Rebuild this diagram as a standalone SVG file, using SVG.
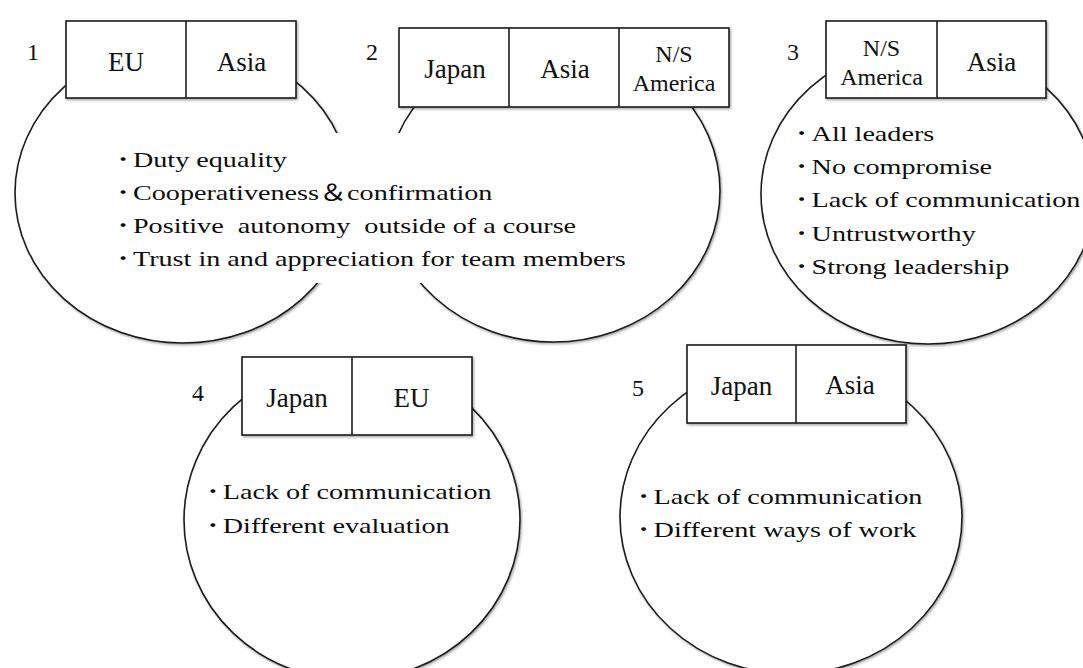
<svg xmlns="http://www.w3.org/2000/svg" width="1083" height="668" viewBox="0 0 1083 668">
<defs>
<filter id="sh" x="-10%" y="-10%" width="120%" height="120%">
<feDropShadow dx="1.2" dy="1.5" stdDeviation="0.9" flood-color="#000" flood-opacity="0.35"/>
</filter>
<style>
.el{fill:#fff;stroke:#1c1c1c;stroke-width:1.6;filter:url(#sh)}
.bx{fill:#fff;stroke:#1c1c1c;stroke-width:1.6;filter:url(#sh)}
.dv{stroke:#1c1c1c;stroke-width:1.6}
.lb{font-family:'Liberation Serif','Times New Roman','DejaVu Serif',serif;font-size:27px;fill:#111;text-anchor:middle}
.ls{font-family:'Liberation Serif','Times New Roman','DejaVu Serif',serif;font-size:24px;fill:#111;text-anchor:middle}
.num{font-family:'Liberation Serif','Times New Roman','DejaVu Serif',serif;font-size:24px;fill:#111;text-anchor:middle}
.t{font-family:'Liberation Serif','Times New Roman','DejaVu Serif',serif;font-size:22px;fill:#0d0d0d;white-space:pre}
.cj{font-family:'Noto Sans CJK JP',sans-serif}
.bu{font-family:'Noto Sans CJK JP',sans-serif;font-size:15px;font-weight:bold}
</style>
</defs>
<rect width="1083" height="668" fill="#fff"/>
<g id="connectors"/>

<g id="node1">
<ellipse class="el" cx="183" cy="193" rx="168" ry="150"/>
</g>
<g id="node2">
<ellipse class="el" cx="553" cy="191" rx="167" ry="151"/>
</g>
<g id="node1-2-text">
<rect x="108" y="133" width="522" height="150" fill="#fff"/>
<text class="t" xml:space="preserve" transform="translate(113.4,167) scale(1.28,1)"><tspan class="bu" dy="-2">・</tspan><tspan x="15.3" dy="2">Duty equality</tspan></text>
<text class="t" xml:space="preserve" transform="translate(113.4,200) scale(1.28,1)"><tspan class="bu" dy="-2">・</tspan><tspan x="15.3" dy="2">Cooperativeness</tspan><tspan class="cj">＆</tspan><tspan>confirmation</tspan></text>
<text class="t" xml:space="preserve" transform="translate(113.4,233) scale(1.28,1)"><tspan class="bu" dy="-2">・</tspan><tspan x="15.3" dy="2">Positive  autonomy  outside of a course</tspan></text>
<text class="t" xml:space="preserve" transform="translate(113.4,266) scale(1.28,1)"><tspan class="bu" dy="-2">・</tspan><tspan x="15.3" dy="2">Trust in and appreciation for team members</tspan></text>
</g>
<g id="node1-header">
<rect class="bx" x="66" y="21" width="230" height="77"/>
<line class="dv" x1="186" y1="21" x2="186" y2="98"/>
<text class="num" x="33" y="60">1</text>
<text class="lb" x="126" y="71">EU</text>
<text class="lb" x="241.5" y="71">Asia</text>
</g>
<g id="node2-header">
<rect class="bx" x="399" y="28" width="330" height="79"/>
<line class="dv" x1="509" y1="28" x2="509" y2="107"/>
<line class="dv" x1="619" y1="28" x2="619" y2="107"/>
<text class="num" x="372" y="60">2</text>
<text class="lb" x="455" y="78">Japan</text>
<text class="lb" x="565" y="78">Asia</text>
<text class="ls" x="674" y="62">N/S</text>
<text class="ls" x="674" y="91">America</text>
</g>

<g id="node3">
<ellipse class="el" cx="928" cy="194" rx="167" ry="150"/>
<rect class="bx" x="826" y="21" width="220" height="77"/>
<line class="dv" x1="937" y1="21" x2="937" y2="98"/>
<text class="num" x="793" y="60">3</text>
<text class="ls" x="881.5" y="56">N/S</text>
<text class="ls" x="881.5" y="85">America</text>
<text class="lb" x="991.5" y="71">Asia</text>
<text class="t" xml:space="preserve" transform="translate(792,140.5) scale(1.28,1)"><tspan class="bu" dy="-2">・</tspan><tspan x="15.3" dy="2">All leaders</tspan></text>
<text class="t" xml:space="preserve" transform="translate(792,174) scale(1.28,1)"><tspan class="bu" dy="-2">・</tspan><tspan x="15.3" dy="2">No compromise</tspan></text>
<text class="t" xml:space="preserve" transform="translate(792,207) scale(1.28,1)"><tspan class="bu" dy="-2">・</tspan><tspan x="15.3" dy="2">Lack of communication</tspan></text>
<text class="t" xml:space="preserve" transform="translate(792,240.5) scale(1.28,1)"><tspan class="bu" dy="-2">・</tspan><tspan x="15.3" dy="2">Untrustworthy</tspan></text>
<text class="t" xml:space="preserve" transform="translate(792,274) scale(1.28,1)"><tspan class="bu" dy="-2">・</tspan><tspan x="15.3" dy="2">Strong leadership</tspan></text>
</g>

<g id="node4">
<ellipse class="el" cx="352" cy="520" rx="168" ry="160"/>
<rect class="bx" x="242" y="357" width="230" height="78"/>
<line class="dv" x1="352" y1="357" x2="352" y2="435"/>
<text class="num" x="198" y="401">4</text>
<text class="lb" x="297" y="406.5">Japan</text>
<text class="lb" x="411.5" y="406.5">EU</text>
<text class="t" xml:space="preserve" transform="translate(203.2,499) scale(1.28,1)"><tspan class="bu" dy="-2">・</tspan><tspan x="15.3" dy="2">Lack of communication</tspan></text>
<text class="t" xml:space="preserve" transform="translate(203.2,533) scale(1.28,1)"><tspan class="bu" dy="-2">・</tspan><tspan x="15.3" dy="2">Different evaluation</tspan></text>
</g>

<g id="node5">
<ellipse class="el" cx="791" cy="517" rx="171" ry="157"/>
<rect class="bx" x="687" y="345" width="219" height="78"/>
<line class="dv" x1="796" y1="345" x2="796" y2="423"/>
<text class="num" x="638" y="396">5</text>
<text class="lb" x="741.5" y="395">Japan</text>
<text class="lb" x="850" y="394">Asia</text>
<text class="t" xml:space="preserve" transform="translate(634,504) scale(1.28,1)"><tspan class="bu" dy="-2">・</tspan><tspan x="15.3" dy="2">Lack of communication</tspan></text>
<text class="t" xml:space="preserve" transform="translate(634,537) scale(1.28,1)"><tspan class="bu" dy="-2">・</tspan><tspan x="15.3" dy="2">Different ways of work</tspan></text>
</g>
</svg>
